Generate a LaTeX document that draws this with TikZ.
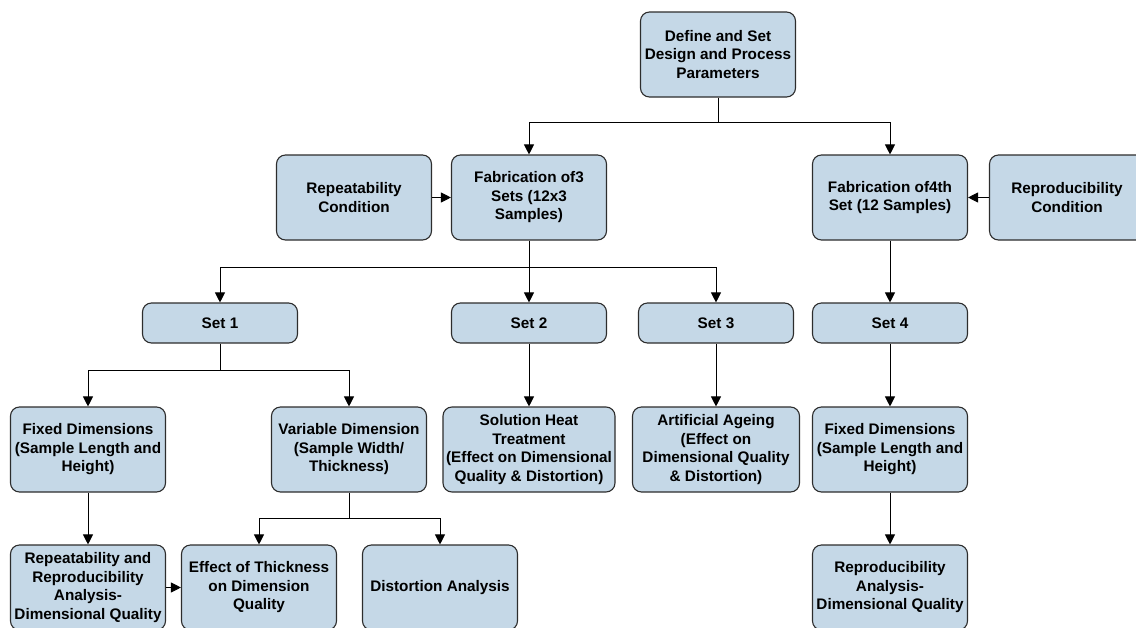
\documentclass[tikz,border=0pt]{standalone}
\usepackage{fontspec}
\setmainfont{Liberation Sans}
\usetikzlibrary{arrows.meta}

\definecolor{boxfill}{RGB}{197,216,231}
\definecolor{boxline}{RGB}{45,45,45}

\tikzset{
  block/.style={draw=boxline, fill=boxfill, line width=1.1pt, rounded corners=9pt,
    minimum width=155pt, minimum height=85pt, inner xsep=0pt, align=center,
    font=\fontsize{15.3}{18.5}\selectfont\bfseries},
  setblock/.style={block, minimum height=40pt},
  arr/.style={-{Triangle[length=10pt,width=10pt]}, line width=0.9pt, black}
}

\begin{document}
\begin{tikzpicture}[x=1pt,y=-1pt]
\useasboundingbox (0,0) rectangle (1136,627);
\clip (0,0) rectangle (1136,627);
            \node[block] (define) at (718,54.5) {Define and Set\\Design and Process\\Parameters};
            \node[block] (repcond) at (354,197.5) {Repeatability\\Condition};
            \node[block] (fab3) at (529,197.5) {Fabrication of3\\Sets (12x3\\Samples)};
            \node[block] (fab4) at (890,197.5) {Fabrication of4th\\Set (12 Samples)};
            \node[block] (reprocond) at (1067,197.5) {Reproducibility\\Condition};
            \node[setblock] (set1) at (220,323) {Set 1};
            \node[setblock] (set2) at (529,323) {Set 2};
            \node[setblock] (set3) at (716,323) {Set 3};
            \node[setblock] (set4) at (890,323) {Set 4};
            \node[block] (fixed1) at (88,449.5) {Fixed Dimensions\\(Sample Length and\\Height)};
            \node[block] (variable) at (349,449.5) {Variable Dimension\\(Sample Width/\\Thickness)};
            \node[block, minimum width=172pt] (heat) at (529,449.5) {Solution Heat\\Treatment\\(Effect on Dimensional\\Quality \& Distortion)};
            \node[block, minimum width=167pt] (ageing) at (716,449.5) {Artificial Ageing\\(Effect on\\Dimensional Quality\\\& Distortion)};
            \node[block] (fixed4) at (890,449.5) {Fixed Dimensions\\(Sample Length and\\Height)};
            \node[block] (rranalysis) at (88,587.5) {Repeatability and\\Reproducibility\\Analysis-\\Dimensional Quality};
            \node[block] (thickness) at (259,587.5) {Effect of Thickness\\on Dimension\\Quality};
            \node[block] (distortion) at (440,587.5) {Distortion Analysis};
            \node[block] (repanalysis) at (890,587.5) {Reproducibility\\Analysis-\\Dimensional Quality};
            \coordinate (j1) at (718,122);
            \coordinate (j2) at (529,267);
            \coordinate (j3) at (220,370);
            \coordinate (j4) at (349,518);
            \draw[line width=0.9pt] (define) -- (j1) (fab3) -- (j2) (set1) -- (j3) (variable) -- (j4);
            \draw[arr] (j1) -| (fab3);
            \draw[arr] (j1) -| (fab4);
            \draw[arr] (j2) -| (set1);
            \draw[arr] (j2) -- (set2);
            \draw[arr] (j2) -| (set3);
            \draw[arr] (j3) -| (fixed1);
            \draw[arr] (j3) -| (variable);
            \draw[arr] (j4) -| (thickness);
            \draw[arr] (j4) -| (distortion);
            \draw[arr] (repcond) -- (fab3);
            \draw[arr] (reprocond) -- (fab4);
            \draw[arr] (fab4) -- (set4);
            \draw[arr] (set2) -- (heat);
            \draw[arr] (set3) -- (ageing);
            \draw[arr] (set4) -- (fixed4);
            \draw[arr] (fixed1) -- (rranalysis);
            \draw[arr] (fixed4) -- (repanalysis);
            \draw[arr] (rranalysis) -- (thickness);
        \end{tikzpicture}
\end{document}
